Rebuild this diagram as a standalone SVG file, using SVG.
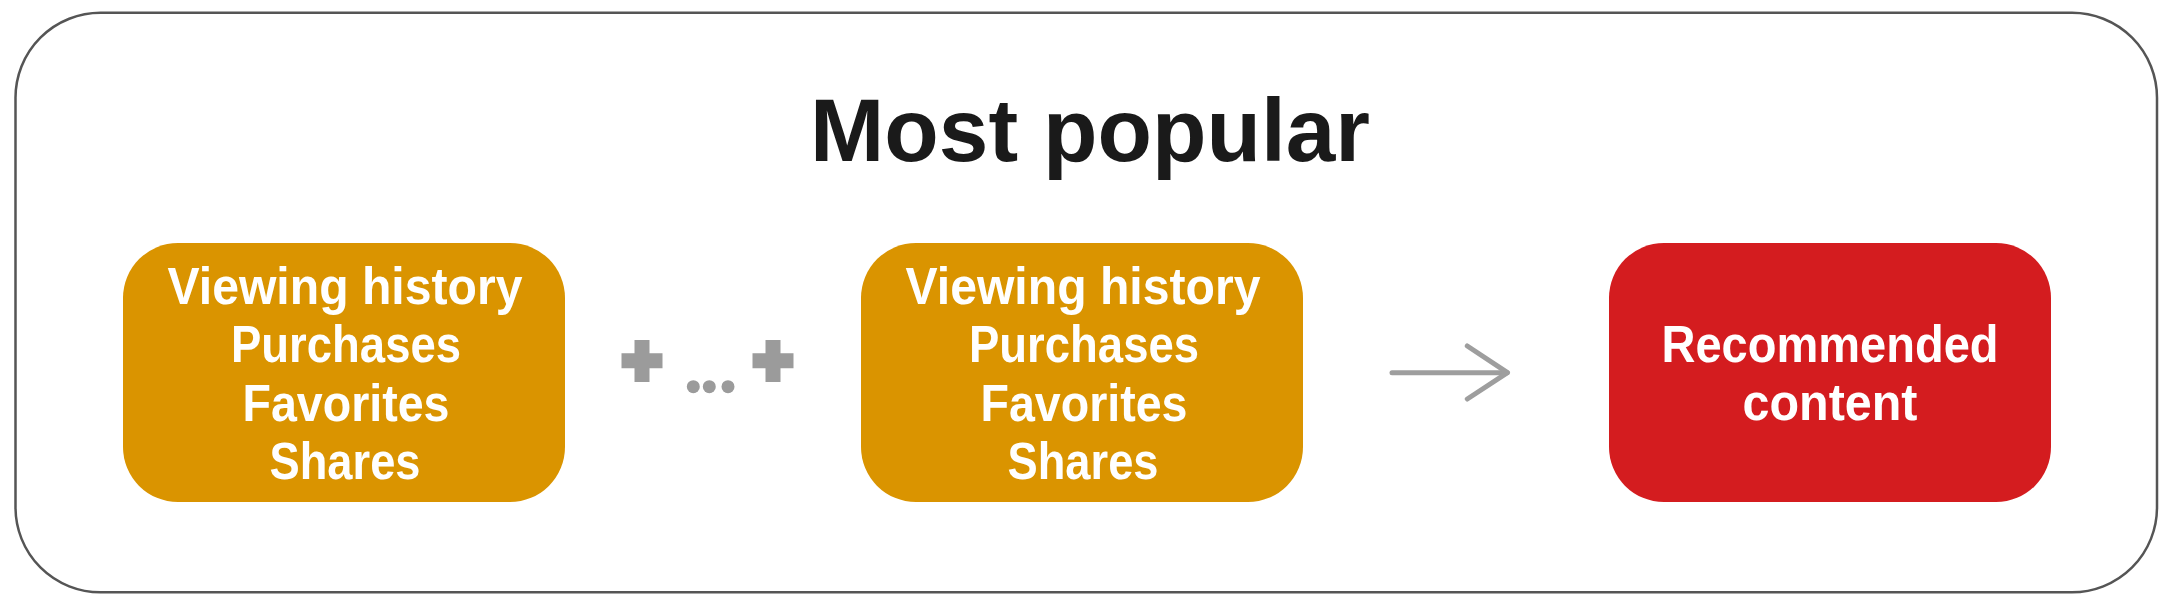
<svg xmlns="http://www.w3.org/2000/svg" width="2177" height="607" viewBox="0 0 2177 607">
<style>
.frame{fill:#ffffff;stroke:#555555;stroke-width:2.5}
.box{fill:#DA9400}
.red{fill:#D41C1F}
.t{font-family:"Liberation Sans",Arial,sans-serif;font-weight:bold;fill:#ffffff;text-anchor:middle;font-size:52px}
.title{font-family:"Liberation Sans",Arial,sans-serif;font-weight:bold;fill:#1a1a1a;text-anchor:middle;font-size:89px}
.sym{fill:#9b9b9b}
.arrow{fill:none;stroke:#9e9e9e;stroke-width:5;stroke-linecap:round;stroke-linejoin:round}
</style>
<rect width="2177" height="607" fill="#ffffff"/>
<rect class="frame" x="15.5" y="12.8" width="2141.5" height="579.5" rx="85" ry="85"/>
<g id="title"><text class="title" x="1090" y="161" textLength="560" lengthAdjust="spacingAndGlyphs">Most popular</text></g>
<g id="node1">
<rect class="box" x="123" y="243" width="442" height="259" rx="55" ry="55"/>
<text class="t" x="345" y="304" textLength="355" lengthAdjust="spacingAndGlyphs">Viewing history</text>
<text class="t" x="346" y="362" textLength="230" lengthAdjust="spacingAndGlyphs">Purchases</text>
<text class="t" x="346" y="421" textLength="207" lengthAdjust="spacingAndGlyphs">Favorites</text>
<text class="t" x="345" y="479" textLength="151" lengthAdjust="spacingAndGlyphs">Shares</text>
</g>
<g id="node2">
<rect class="box" x="861" y="243" width="442" height="259" rx="55" ry="55"/>
<text class="t" x="1083" y="304" textLength="355" lengthAdjust="spacingAndGlyphs">Viewing history</text>
<text class="t" x="1084" y="362" textLength="230" lengthAdjust="spacingAndGlyphs">Purchases</text>
<text class="t" x="1084" y="421" textLength="207" lengthAdjust="spacingAndGlyphs">Favorites</text>
<text class="t" x="1083" y="479" textLength="151" lengthAdjust="spacingAndGlyphs">Shares</text>
</g>
<g id="node3">
<rect class="red" x="1609" y="243" width="442" height="259" rx="55" ry="55"/>
<text class="t" x="1830" y="362" textLength="337" lengthAdjust="spacingAndGlyphs">Recommended</text>
<text class="t" x="1830" y="420" textLength="175" lengthAdjust="spacingAndGlyphs">content</text>
</g>
<g id="connectors">
<g id="plus-ellipsis">
<path class="sym" d="M634.5 340h15v13.3h13v15h-13v13.7h-15v-13.7h-13v-15h13z"/>
<path class="sym" d="M765.5 340h15v13.3h13v15h-13v13.7h-15v-13.7h-13v-15h13z"/>
<circle class="sym" cx="693.3" cy="386.7" r="6.5"/>
<circle class="sym" cx="709.3" cy="386.7" r="6.5"/>
<circle class="sym" cx="728" cy="386.7" r="6.5"/>
</g>
<g id="arrow">
<path class="arrow" d="M1392 372.7H1507"/>
<path class="arrow" d="M1467.3 346L1507.5 372.7L1467.3 399"/>
</g>
</g>
</svg>
